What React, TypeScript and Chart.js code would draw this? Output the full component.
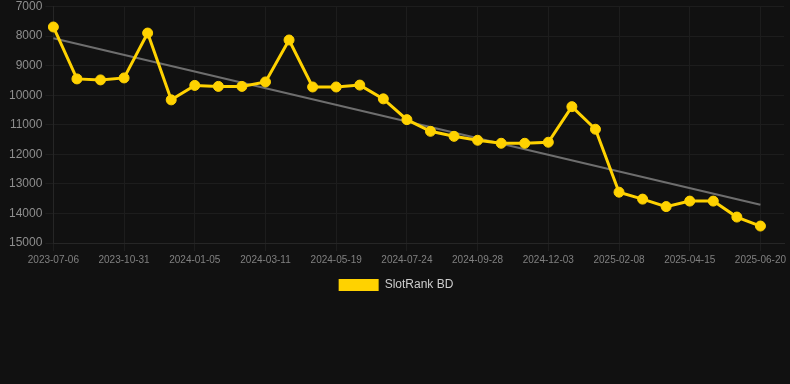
import React, { useEffect, useRef } from "react";
import { Chart, registerables } from "chart.js";

Chart.register(...registerables);

const categories: string[] = [
  "2023-07-06", "2023-08-14", "2023-09-22",
  "2023-10-31", "2023-11-22", "2023-12-14",
  "2024-01-05", "2024-01-27", "2024-02-18",
  "2024-03-11", "2024-04-03", "2024-04-26",
  "2024-05-19", "2024-06-10", "2024-07-02",
  "2024-07-24", "2024-08-15", "2024-09-06",
  "2024-09-28", "2024-10-20", "2024-11-11",
  "2024-12-03", "2024-12-25", "2025-01-17",
  "2025-02-08", "2025-03-02", "2025-03-24",
  "2025-04-15", "2025-05-07", "2025-05-29",
  "2025-06-20", "",
];

const rankValues: number[] = [
  7690, 9447, 9481, 9414, 7895, 10156, 9667, 9700, 9700, 9549,
  8130, 9720, 9720, 9656, 10122, 10825, 11220, 11390, 11523, 11625,
  11625, 11590, 10386, 11150, 13280, 13515, 13768, 13582, 13582, 14122,
  14426,
];

const trendStart = 8070;
const trendEnd = 13707;

const seriesLabel = "SlotRank BD";
const yTicks = { min: 7000, max: 15000, step: 1000 };

export default function App() {
  const canvasRef = useRef<HTMLCanvasElement | null>(null);

  useEffect(() => {
    if (!canvasRef.current) return;
    const trendData: (number | null)[] = rankValues.map((_, i) =>
      i === 0 ? trendStart : i === rankValues.length - 1 ? trendEnd : null
    );
    const chart = new Chart(canvasRef.current, {
      type: "line",
      data: {
        labels: categories,
        datasets: [
          {
            label: seriesLabel,
            data: rankValues,
            borderColor: "#FFD200",
            backgroundColor: "#FFD200",
            borderWidth: 3,
            pointRadius: 5,
            pointBorderWidth: 1,
            pointBackgroundColor: "#FFD200",
            pointBorderColor: "#FFD200",
            tension: 0,
            order: 1,
          },
          {
            label: "trend",
            data: trendData,
            borderColor: "#6e6e6e",
            backgroundColor: "#6e6e6e",
            borderWidth: 2,
            pointRadius: 0,
            spanGaps: true,
            order: 2,
          },
        ],
      },
      options: {
        animation: false,
        responsive: true,
        maintainAspectRatio: false,
        layout: { padding: { left: 6, right: 4, top: 0, bottom: 0 } },
        scales: {
          x: {
            grid: { color: "#1d1d1d", tickLength: 8 },
            border: { color: "#262626" },
            ticks: {
              color: "#808080",
              font: { size: 10 },
              maxRotation: 0,
              autoSkip: true,
              padding: 3,
            },
          },
          y: {
            reverse: true,
            min: yTicks.min,
            max: yTicks.max,
            grid: { color: "#1d1d1d", tickLength: 8 },
            border: { color: "#262626" },
            ticks: {
              stepSize: yTicks.step,
              color: "#8e8e8e",
              font: { size: 12, lineHeight: 0.6 },
              padding: 3,
              callback: (v) => String(v),
            },
          },
        },
        plugins: {
          legend: {
            position: "bottom",
            labels: {
              color: "#cccccc",
              font: { size: 12 },
              boxWidth: 40,
              boxHeight: 12,
              generateLabels: (c) =>
                Chart.defaults.plugins.legend.labels
                  .generateLabels(c)
                  .filter((item) => item.text === seriesLabel)
                  .map((item) => ({ ...item, lineWidth: 0 })),
            },
          },
          tooltip: { enabled: false },
        },
      },
    });
    return () => chart.destroy();
  }, []);

  return (
    <div style={{ position: "fixed", inset: 0, background: "#111111" }}>
      <div style={{ position: "relative", width: 790, height: 301 }}>
        <canvas ref={canvasRef} />
      </div>
    </div>
  );
}
